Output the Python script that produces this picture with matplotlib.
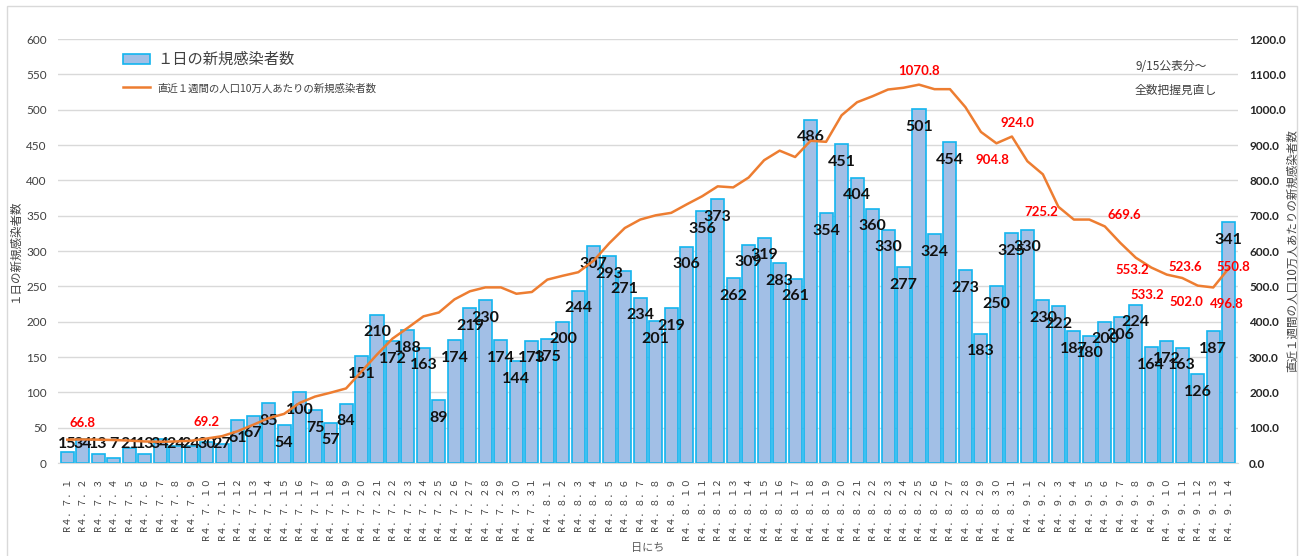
import matplotlib

matplotlib.use("Agg")
import matplotlib.pyplot as plt
from matplotlib.lines import Line2D
from matplotlib.patches import Patch, Rectangle

plt.rcParams["font.family"] = ["Noto Sans CJK JP", "DejaVu Sans"]
NUM_FONT = ["Lato", "DejaVu Sans"]

# daily new cases, R4.7.1 - R4.9.14
days = (
    [("7", d) for d in range(1, 32)]
    + [("8", d) for d in range(1, 32)]
    + [("9", d) for d in range(1, 15)]
)
daily_cases = [
    15, 34, 13, 7, 21, 13, 34, 24, 24, 30, 27, 61, 67, 85, 54, 100, 75, 57, 84, 151,
    210, 172, 188, 163, 89, 174, 219, 230, 174, 144, 173,
    175, 200, 244, 307, 293, 271, 234, 201, 219, 306, 356, 373, 262, 309, 319, 283, 261,
    486, 354, 451, 404, 360, 330, 277, 501, 324, 454, 273, 183, 250, 325,
    330, 230, 222, 187, 180, 200, 206, 224, 164, 172, 163, 126, 187, 341,
]
# weekly new cases per 100k population
weekly_per_100k = [
    66.0, 66.8, 66.0, 65.0, 63.5, 61.0, 60.0, 61.0, 63.0, 69.2,
    76, 90, 108, 127, 139, 170, 188, 199, 211, 259,
    307, 352, 383, 415, 426, 463, 486, 497, 497, 479,
    484, 519, 530, 540, 573, 622, 665, 689, 701, 708,
    732, 755, 783, 780, 808, 857, 884, 866, 912, 909,
    984, 1021, 1038, 1057, 1062, 1070.8, 1058, 1058, 1007, 937,
    904.8, 924.0, 854, 817, 725.2, 689, 689, 669.6, 623, 581,
    553.2, 533.2, 523.6, 502.0, 496.8, 550.8,
]
# which line points carry a red label, with label offset (points)
line_labels = {
    1: (0, 12), 9: (0, 12), 55: (0, 10), 60: (-3, -12), 61: (4, 10),
    64: (-12, -4), 67: (14, 8), 70: (-14, -2), 71: (-14, -15),
    72: (2, 8), 73: (-8, -12), 74: (10, -12), 75: (3, 1),
}

FW = str.maketrans("0123456789.", "０１２３４５６７８９．")
tick_labels = [f"R4.{m}.{d}".translate(FW) for m, d in days]
x = list(range(len(daily_cases)))

fig = plt.figure(figsize=(13.03, 5.56), dpi=100)
fig.patches.append(Rectangle((7 / 1303, -0.1), 1290 / 1303, 1.1 - 6 / 556,
                             transform=fig.transFigure, fill=False,
                             edgecolor="#d9d9d9", linewidth=1))
ax = fig.add_axes([58 / 1303, 93 / 556, 1180 / 1303, 424 / 556])
ax2 = ax.twinx()

ax.bar(x, daily_cases, width=0.84, color="#a2bfe6", edgecolor="#13b5ef",
       linewidth=1.2, zorder=2)
ax.set_ylim(0, 600)
ax.set_yticks(range(0, 601, 50))
ax.set_xlim(-0.6, len(x) - 0.4)
ax.grid(axis="y", color="#d9d9d9", linewidth=1, zorder=0)
ax.set_axisbelow(True)
for s in ax.spines.values():
    s.set_visible(False)
for s in ax2.spines.values():
    s.set_visible(False)
ax.spines["bottom"].set_visible(True)
ax.spines["bottom"].set_color("#d9d9d9")
ax.tick_params(axis="y", length=0, labelsize=8.5, labelcolor="#404040", pad=8)
for lab in ax.get_yticklabels():
    lab.set_family(NUM_FONT)
ax.set_xticks(x)
ax.set_xticklabels(tick_labels, rotation=90, fontsize=6.8, color="#404040")
ax.tick_params(axis="x", length=0, pad=10)
for lab in ax.get_xticklabels():
    lab.set_verticalalignment("top")

for i, v in enumerate(daily_cases):
    ax.text(i, max(v - 25, 27), str(v), ha="center", va="center", fontsize=11.5,
            fontweight="bold", color="#111111", family=NUM_FONT, zorder=5)

ax2.plot(x, weekly_per_100k, color="#ed7d31", linewidth=1.8, zorder=4)
ax2.set_ylim(0, 1200)
ax2.set_yticks(range(0, 1201, 100))
ax2.set_yticklabels([f"{t:.1f}" for t in range(0, 1201, 100)],
                    fontweight="bold", family=NUM_FONT)
ax2.tick_params(axis="y", length=0, labelsize=8.5, labelcolor="#262626", pad=8)
for i, (dx, dy) in line_labels.items():
    ax2.annotate(f"{weekly_per_100k[i]:.1f}", (i, weekly_per_100k[i]),
                 xytext=(dx, dy), textcoords="offset points", ha="center",
                 va="center", color="#ff0000", fontsize=9.5, fontweight="bold",
                 family=NUM_FONT, zorder=6)

ax.set_xlabel("日にち", fontsize=8, color="#595959", labelpad=2)
ax.set_ylabel("１日の新規感染者数", fontsize=8.3, color="#404040", labelpad=4)
ax2.set_ylabel("直近１週間の人口10万人あたりの新規感染者数", fontsize=8.3,
               color="#404040", labelpad=0)

handles = [
    Patch(facecolor="#a2bfe6", edgecolor="#13b5ef", linewidth=1.2),
    Line2D([0], [0], color="#ed7d31", linewidth=1.8),
]
leg = ax.legend(handles, ["１日の新規感染者数", "直近１週間の人口10万人あたりの新規感染者数"],
                loc="upper left", bbox_to_anchor=(110 / 1303, 1 - 38 / 556),
                bbox_transform=fig.transFigure, frameon=False,
                handlelength=2.0, handletextpad=0.5, labelspacing=1.05)
leg.get_texts()[0].set_fontsize(11)
leg.get_texts()[1].set_fontsize(7.5)
for t in leg.get_texts():
    t.set_color("#404040")
leg.set_zorder(10)

fig.text(1135 / 1303, 1 - 67 / 556, "9/15公表分～", fontsize=8.5, color="#404040",
         va="center")
fig.text(1135 / 1303, 1 - 90 / 556, "全数把握見直し", fontsize=8.5, color="#404040",
         va="center")

fig.savefig("out.png", dpi=100, facecolor="white")
